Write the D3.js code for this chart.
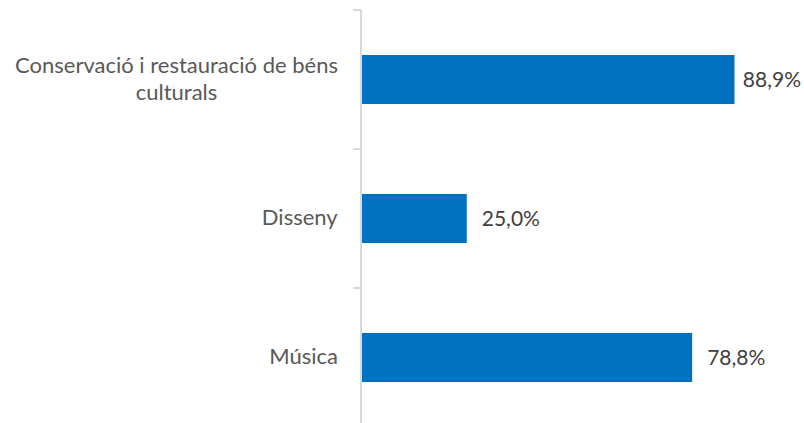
<!DOCTYPE html>
<html><head><meta charset="utf-8">
<script src="https://cdn.jsdelivr.net/npm/d3@7"></script>
<style>body{margin:0;background:#fff}svg{display:block}</style>
</head><body>
<script>
const categories = [["Conservació i restauració de béns", "culturals"], ["Disseny"], ["Música"]];
const values = [88.9, 25.0, 78.8];
const valueLabels = ["88,9%", "25,0%", "78,8%"];

const W = 804, H = 423;
const svg = d3.select("body").append("svg").attr("width", W).attr("height", H);
const x = d3.scaleLinear().domain([0, 100]).range([362, 781]);
const y = d3.scaleBand().domain(d3.range(categories.length)).range([10, 427]).paddingInner(0.647).paddingOuter(0.3235);
const font = "Lato, Carlito, Calibri, sans-serif";

// bars
svg.selectAll("rect.bar").data(values).enter().append("rect")
  .attr("x", x(0)).attr("y", (d, i) => y(i))
  .attr("width", d => x(d) - x(0)).attr("height", y.bandwidth())
  .attr("fill", "#0070c0");

// axis
const g = svg.append("g").attr("transform", "translate(361,0)");
g.append("line").attr("x1", 0).attr("x2", 0).attr("y1", 10).attr("y2", 423).attr("stroke", "#d9d9d9").attr("stroke-width", 2);
const bounds = [0, 1, 2].map(i => y(i) - y.step() * y.paddingOuter());
g.selectAll("line.tk").data(bounds).enter().append("line")
  .attr("x1", -8).attr("x2", 0).attr("y1", d => d).attr("y2", d => d)
  .attr("stroke", "#d9d9d9").attr("stroke-width", 2);

// category labels
categories.forEach((lines, i) => {
  const cy = y(i) + y.bandwidth() / 2;
  const lh = 27;
  const t = svg.append("text").attr("font-family", font).attr("font-size", 22).attr("fill", "#595959")
    .attr("text-anchor", "middle");
  lines.forEach((ln, k) => {
    t.append("tspan").attr("x", 0).attr("y", cy + (k - (lines.length - 1) / 2) * lh - 1).attr("dy", "0.35em").text(ln);
  });
  const bw = t.node().getBBox().width;
  t.attr("transform", `translate(${338 - bw / 2},0)`);
});

// value labels
svg.selectAll("text.val").data(values).enter().append("text")
  .attr("y", (d, i) => y(i) + y.bandwidth() / 2).attr("dy", "0.35em")
  .attr("font-family", font).attr("font-size", 21).attr("fill", "#404040")
  .text((d, i) => valueLabels[i])
  .each(function (d) {
    const w = this.getComputedTextLength();
    this.setAttribute("x", Math.max(x(d) + 8, Math.min(x(d) + 15, W - 3 - w)));
  });
</script>
</body></html>
